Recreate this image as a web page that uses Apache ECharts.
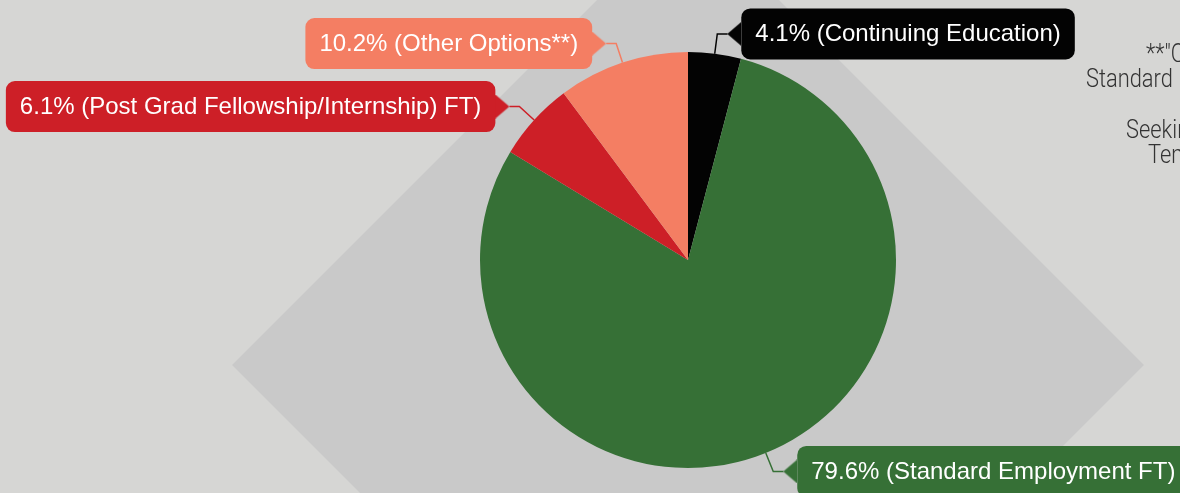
<!DOCTYPE html>
<html>
<head>
<meta charset="utf-8">
<script src="https://cdn.jsdelivr.net/npm/echarts@6/dist/echarts.min.js"></script>
<style>
  html, body { margin: 0; padding: 0; background: #d6d6d4; }
  #main { width: 1180px; height: 493px; }
</style>
</head>
<body>
<div id="main"></div>
<script>
// slice data, clockwise from 12 o'clock
var categories = ["Continuing Education", "Standard Employment FT", "Post Grad Fellowship/Internship) FT", "Other Options**"];
var shares = [4.1, 79.6, 6.1, 10.2];
var colors = ["#030303", "#367036", "#cd1f27", "#f47e63"];
// footnote on the right (cut off by the edge in the original)
var noteLines = ['**"Other Options" include', 'Standard Employment PT,', 'Seeking Employment,', 'Temporary/Contract'];

var myChart = echarts.init(document.getElementById("main"));

// little callout pointer drawn on a canvas, used as a rich token background
function pointer(color, toLeft) {
  var c = document.createElement("canvas");
  c.width = 14;
  c.height = 24;
  var ctx = c.getContext("2d");
  ctx.fillStyle = color;
  ctx.beginPath();
  if (toLeft) {
    ctx.moveTo(0, 12); ctx.lineTo(14, 0); ctx.lineTo(14, 24);
  } else {
    ctx.moveTo(14, 12); ctx.lineTo(0, 0); ctx.lineTo(0, 24);
  }
  ctx.closePath();
  ctx.fill();
  return c;
}

var total = shares.reduce(function (a, b) { return a + b; }, 0);
var sides = [];
var cum = 0;
shares.forEach(function (v) {
  var mid = (cum + v / 2) / total * 360;
  sides.push(mid < 180 ? "right" : "left");
  cum += v;
});

var rich = {};
colors.forEach(function (c, i) {
  rich["box" + i] = {
    color: "#fff",
    fontFamily: "'Liberation Sans', Arial, sans-serif",
    fontSize: 24,
    lineHeight: 28,
    padding: [14, 14, 13, 14],
    backgroundColor: c,
    borderRadius: 9
  };
  rich["ptr" + i] = {
    fontSize: 10,
    width: 14,
    height: 24,
    backgroundColor: { image: pointer(c, sides[i] === "right") }
  };
});

var data = categories.map(function (name, i) {
  return { name: name, value: shares[i], itemStyle: { color: colors[i] } };
});

var noteFont = "300 26px Roboto, sans-serif";
function note(text, x, y) {
  return {
    type: "text", x: x, y: y, scaleX: 0.84, z: 10, silent: true,
    style: { text: text, fill: "#333", font: noteFont, verticalAlign: "middle" }
  };
}

var option = {
  backgroundColor: "#d6d6d4",
  animation: false,
  graphic: [
    {
      type: "polygon",
      z: -10,
      silent: true,
      shape: { points: [[688, -91], [1144, 365], [688, 821], [232, 365]] },
      style: { fill: "#c9c9c9" }
    },
    note(noteLines[0], 1146, 55),
    note(noteLines[1], 1086, 80),
    note(noteLines[2], 1126, 131),
    note(noteLines[3], 1148, 156)
  ],
  series: [
    {
      type: "pie",
      left: -100,
      top: -20,
      width: 1500,
      height: 540,
      center: [788, 280],
      radius: [0, 208],
      startAngle: 90,
      clockwise: true,
      data: data,
      label: {
        show: true,
        position: "outside",
        distanceToLabelLine: 0,
        formatter: function (p) {
          var i = p.dataIndex;
          var txt = "{box" + i + "|" + p.value + "% (" + p.name + ")}";
          var ptr = "{ptr" + i + "| }";
          return sides[i] === "right" ? ptr + txt : txt + ptr;
        },
        rich: rich
      },
      labelLine: {
        show: true,
        length: 20,
        length2: 10,
        smooth: false,
        lineStyle: { width: 1.5 }
      },
      emphasis: { disabled: true }
    }
  ]
};

myChart.setOption(option);
</script>
</body>
</html>
